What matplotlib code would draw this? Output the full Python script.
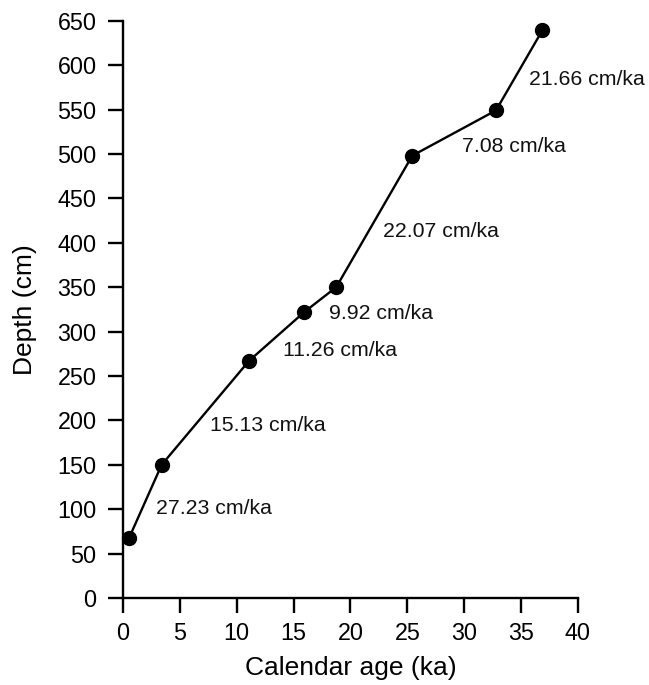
import matplotlib
matplotlib.use("Agg")
import matplotlib.pyplot as plt

plt.rcParams['font.family'] = ['Liberation Sans', 'DejaVu Sans']

age = [0.55, 3.4, 11.08, 15.94, 18.75, 25.43, 32.79, 36.86]
depth = [68, 150, 267, 322, 350, 498, 549, 639]
rate_labels = ["27.23 cm/ka", "15.13 cm/ka", "11.26 cm/ka", "9.92 cm/ka",
               "22.07 cm/ka", "7.08 cm/ka", "21.66 cm/ka"]
label_x = [2.9, 7.65, 14.04, 18.14, 22.86, 29.8, 35.7]
label_y = [101, 194, 279, 320, 413, 508, 584]

fig = plt.figure(figsize=(6.49, 6.85), dpi=100)
ax = fig.add_axes([0.1895, 0.127, 0.7011, 0.8428])
ax.plot(age, depth, color='black', lw=1.7, marker='o', markersize=10,
        clip_on=False, zorder=3)
for t, x, y in zip(rate_labels, label_x, label_y):
    ax.text(x, y, t, fontsize=15.3, ha='left', va='center', color='#111111')

ax.set_xlim(0, 40)
ax.set_ylim(0, 650)
ax.set_xticks(range(0, 41, 5))
ax.set_yticks(range(0, 651, 50))
ax.spines['top'].set_visible(False)
ax.spines['right'].set_visible(False)
for s in ['left', 'bottom']:
    ax.spines[s].set_linewidth(1.7)
ax.tick_params(axis='both', length=11, width=1.7, labelsize=16.8)
ax.tick_params(axis='y', pad=8)
ax.tick_params(axis='x', pad=6)
ax.set_xlabel("Calendar age (ka)", fontsize=19, labelpad=8)
ax.set_ylabel("Depth (cm)", fontsize=19, labelpad=15)

fig.savefig("out.png", dpi=100)
